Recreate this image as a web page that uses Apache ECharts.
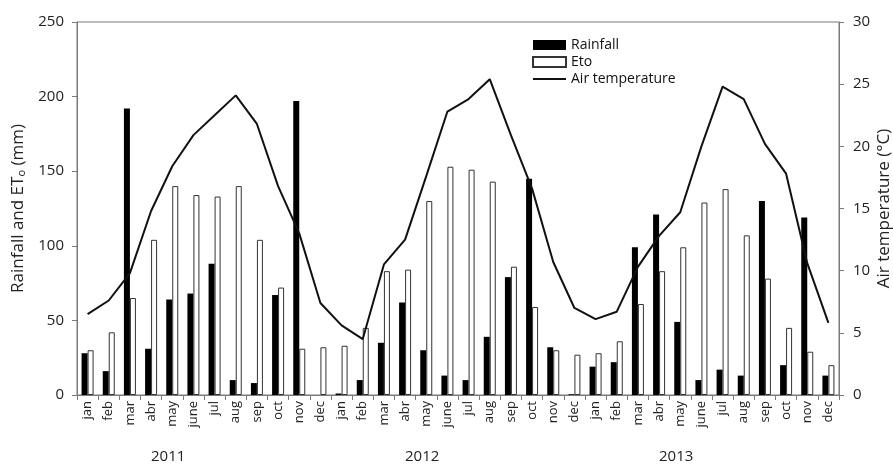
<!DOCTYPE html>
<html>
<head>
<meta charset="utf-8">
<script src="https://cdn.jsdelivr.net/npm/echarts@6/dist/echarts.min.js"></script>
<style>
  html, body { margin: 0; padding: 0; background: #fff; }
  #chart { width: 893px; height: 466px; }
</style>
</head>
<body>
<div id="chart"></div>
<script>
// Monthly climate record, Jan 2011 – Dec 2013
const months = ['jan','feb','mar','abr','may','june','jul','aug','sep','oct','nov','dec'];
const years = ['2011', '2012', '2013'];
const categories = years.flatMap(() => months);

// Rainfall (mm)
const rainfall2011 = [28, 16, 192, 31, 64, 68, 88, 10, 8, 67, 197, 0];
const rainfall2012 = [1, 10, 35, 62, 30, 13, 10, 39, 79, 145, 32, 0.5];
const rainfall2013 = [19, 22, 99, 121, 49, 10, 17, 13, 130, 20, 119, 13];

// Reference evapotranspiration ET0 (mm)
const eto2011 = [30, 42, 65, 104, 140, 134, 133, 140, 104, 72, 31, 32];
const eto2012 = [33, 45, 83, 84, 130, 153, 151, 143, 86, 59, 30, 27];
const eto2013 = [28, 36, 61, 83, 99, 129, 138, 107, 78, 45, 29, 20];

// Mean air temperature (°C)
const temp2011 = [6.5, 7.6, 9.8, 14.8, 18.4, 20.9, 22.5, 24.1, 21.8, 16.8, 13.0, 7.4];
const temp2012 = [5.6, 4.5, 10.5, 12.5, 17.6, 22.8, 23.8, 25.4, 20.9, 16.6, 10.7, 7.0];
const temp2013 = [6.1, 6.7, 10.3, 12.8, 14.7, 20.0, 24.8, 23.8, 20.2, 17.8, 10.6, 5.8];

const rainfall = [...rainfall2011, ...rainfall2012, ...rainfall2013];
const eto = [...eto2011, ...eto2012, ...eto2013];
const temperature = [...temp2011, ...temp2012, ...temp2013];

const FONT = '"Open Sans", "Noto Sans", sans-serif';
const AXIS_GRAY = '#7a7a7a';
const TEXT = '#222';

const chart = echarts.init(document.getElementById('chart'), null, { renderer: 'canvas' });

const gridLeft = 77, gridRight = 54, gridTop = 22, gridBottom = 71;
const plotW = 893 - gridLeft - gridRight;

// year captions under each block of twelve months
const yearCaptions = years.map((y, i) => ({
  type: 'text',
  left: gridLeft + plotW * (i * 12 + 4.3) / 36 - 17,
  top: 449,
  style: { text: y, fontFamily: '"Liberation Sans Narrow", "Open Sans", sans-serif', fontSize: 15, fill: TEXT }
}));

// thin horizontal stroke used as the legend key of the line series
const lineKey = 'path://M0,0h1v0h-1zM0,10h1v0h-1zM0,4.1H33V5.9H0Z';

chart.setOption({
  animation: false,
  backgroundColor: '#fff',
  textStyle: { fontFamily: FONT },
  grid: {
    left: gridLeft, right: gridRight, top: gridTop, bottom: gridBottom,
    outerBoundsMode: 'none', containLabel: false,
    show: true, borderColor: AXIS_GRAY, borderWidth: 1, backgroundColor: 'transparent'
  },
  legend: {
    orient: 'vertical',
    left: 527, top: 33,
    itemWidth: 33, itemHeight: 10, itemGap: 3,
    textStyle: { fontFamily: FONT, fontSize: 14, color: '#111' },
    data: [
      { name: 'Rainfall', icon: 'rect' },
      { name: 'Eto', icon: 'rect' },
      { name: 'Air temperature', icon: lineKey }
    ]
  },
  xAxis: {
    type: 'category',
    data: categories,
    boundaryGap: true,
    axisLine: { lineStyle: { color: AXIS_GRAY, width: 1 } },
    axisTick: { show: true, length: 5, alignWithLabel: false, lineStyle: { color: AXIS_GRAY } },
    axisLabel: {
      interval: 0, rotate: 90, margin: 6,
      fontFamily: FONT, fontSize: 13, color: TEXT
    },
    splitLine: { show: false }
  },
  yAxis: [
    {
      type: 'value', min: 0, max: 250, interval: 50,
      name: 'Rainfall and ET{sub|o} (mm)',
      nameLocation: 'middle', nameRotate: 90, nameGap: 46,
      nameTextStyle: {
        fontFamily: FONT, fontSize: 17, color: TEXT,
        rich: { sub: { fontFamily: FONT, fontSize: 11, color: TEXT, verticalAlign: 'bottom', padding: [8, 0, 0, 0] } }
      },
      axisLine: { show: true, lineStyle: { color: AXIS_GRAY } },
      axisTick: { show: true, length: 5, lineStyle: { color: AXIS_GRAY } },
      axisLabel: { margin: 13, fontFamily: FONT, fontSize: 15, color: TEXT },
      splitLine: { show: false }
    },
    {
      type: 'value', min: 0, max: 30, interval: 5,
      position: 'right',
      name: 'Air temperature (°C)',
      nameLocation: 'middle', nameRotate: 90, nameGap: 37,
      nameMoveOverlap: false,
      nameTextStyle: { fontFamily: FONT, fontSize: 17, color: TEXT },
      axisLine: { show: true, lineStyle: { color: AXIS_GRAY } },
      axisTick: { show: true, length: 5, lineStyle: { color: AXIS_GRAY } },
      axisLabel: { margin: 14, fontFamily: FONT, fontSize: 15, color: TEXT },
      splitLine: { show: false }
    }
  ],
  graphic: yearCaptions,
  series: [
    {
      name: 'Rainfall', type: 'bar', yAxisIndex: 0,
      data: rainfall,
      barWidth: 6, barGap: '0%',
      itemStyle: { color: '#000' }
    },
    {
      name: 'Eto', type: 'bar', yAxisIndex: 0,
      data: eto,
      barWidth: 6, barGap: '0%',
      itemStyle: { color: '#fff', borderColor: '#333', borderWidth: 1 }
    },
    {
      name: 'Air temperature', type: 'line', yAxisIndex: 1,
      data: temperature,
      symbol: 'none', smooth: false,
      lineStyle: { color: '#111', width: 2 },
      itemStyle: { color: '#111' },
      z: 5
    }
  ]
});
</script>
</body>
</html>
